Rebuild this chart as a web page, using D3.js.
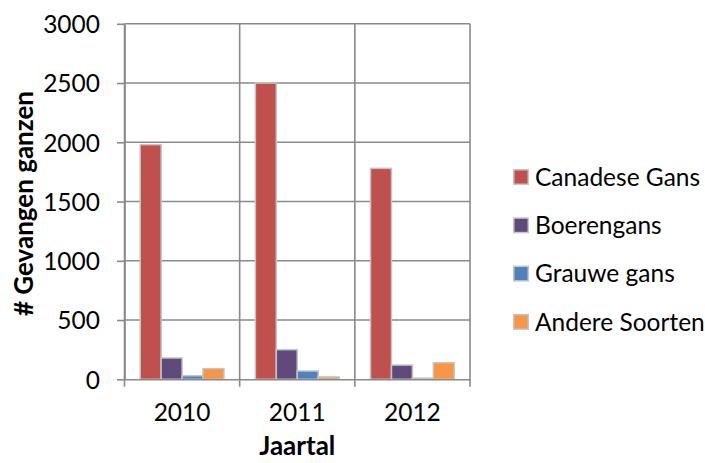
<!DOCTYPE html>
<html>
<head>
<meta charset="utf-8">
<script src="https://cdn.jsdelivr.net/npm/d3@7"></script>
<style>
  html, body { margin: 0; padding: 0; background: #fff; }
  svg { display: block; }
  text { font-family: Lato, "Open Sans", sans-serif; fill: #000; }
</style>
</head>
<body>
<svg id="chart" width="705" height="463"></svg>
<script>
// Gevangen ganzen per jaar en soort
const years = ["2010", "2011", "2012"];
const seriesNames = ["Canadese Gans", "Boerengans", "Grauwe gans", "Andere Soorten"];
const canadeseGans = [1980, 2500, 1780];
const boerengans = [180, 250, 120];
const grauweGans = [30, 70, 10];
const andereSoorten = [90, 20, 140];
const yTicks = [0, 500, 1000, 1500, 2000, 2500, 3000];
const seriesColors = ["#C0504D", "#604A7B", "#4F81BD", "#F79646"];

const seriesValues = [canadeseGans, boerengans, grauweGans, andereSoorten];

const svg = d3.select("#chart");
const gridColor = "#8a8a8a";
const fontSize = 24.5;

const plot = { left: 124.5, right: 470, top: 23.8, bottom: 379.3 };

const y = d3.scaleLinear().domain([0, 3000]).range([plot.bottom, plot.top]);
const x = d3.scaleBand().domain(years).range([plot.left, plot.right]).padding(0);
// Gap width 150% of a bar on each side of a group
const xInner = d3.scaleBand().domain(seriesNames)
  .range([0, x.bandwidth()]).paddingInner(0).paddingOuter(0.75);

// Horizontal gridlines
svg.append("g").selectAll("line").data(yTicks.filter(d => d > 0)).join("line")
  .attr("x1", plot.left).attr("x2", plot.right)
  .attr("y1", d => y(d)).attr("y2", d => y(d))
  .attr("stroke", gridColor).attr("stroke-width", 1.6);

// Vertical gridlines at category boundaries, extending as x-axis ticks
const boundaries = years.map(d => x(d)).concat([x(years[years.length - 1]) + x.bandwidth()]);
svg.append("g").selectAll("line").data(boundaries).join("line")
  .attr("x1", d => d).attr("x2", d => d)
  .attr("y1", plot.top).attr("y2", plot.bottom + 7.5)
  .attr("stroke", gridColor).attr("stroke-width", 1.6);

// Bars
const groups = svg.append("g").selectAll("g").data(years).join("g")
  .attr("transform", d => `translate(${x(d)},0)`);
groups.selectAll("rect")
  .data((yr, i) => seriesNames.map((s, j) => ({ s, j, v: seriesValues[j][i] })))
  .join("rect")
  .attr("x", d => xInner(d.s))
  .attr("width", xInner.bandwidth())
  .attr("y", d => y(d.v))
  .attr("height", d => y(0) - y(d.v))
  .attr("fill", d => seriesColors[d.j])
  .attr("stroke", "#c4c4c4").attr("stroke-width", 1.5);

// Y axis
const yAxis = svg.append("g")
  .attr("transform", `translate(${plot.left},0)`)
  .call(d3.axisLeft(y).tickValues(yTicks).tickFormat(d3.format("d"))
    .tickSize(7.5).tickPadding(17).tickSizeOuter(0));
yAxis.select(".domain").attr("stroke", gridColor).attr("stroke-width", 1.6);
yAxis.selectAll(".tick line").attr("stroke", gridColor).attr("stroke-width", 1.6);
yAxis.selectAll(".tick text").style("font-size", fontSize + "px").attr("dy", "0.36em")
  .style("font-family", "Lato, sans-serif").attr("fill", "#000");

// X axis
const xAxis = svg.append("g")
  .attr("transform", `translate(0,${plot.bottom})`)
  .call(d3.axisBottom(x).tickSize(0).tickPadding(24).tickSizeOuter(0));
xAxis.select(".domain").attr("stroke", gridColor).attr("stroke-width", 1.6);
xAxis.selectAll(".tick text").style("font-size", fontSize + "px")
  .style("font-family", "Lato, sans-serif").attr("fill", "#000");

// Axis titles
svg.append("text")
  .attr("transform", `translate(33,${(plot.top + plot.bottom) / 2 + 2}) rotate(-90)`)
  .attr("text-anchor", "middle")
  .style("font-size", "26px").style("font-weight", "bold")
  .text("# Gevangen ganzen");

svg.append("text")
  .attr("x", (plot.left + plot.right) / 2).attr("y", 455)
  .attr("text-anchor", "middle")
  .style("font-size", "26px").style("font-weight", "bold")
  .text("Jaartal");

// Legend
const legend = svg.append("g").selectAll("g").data(seriesNames).join("g")
  .attr("transform", (d, i) => `translate(513,${177 + i * 48.3})`);
legend.append("rect")
  .attr("x", 0.75).attr("y", -7.25).attr("width", 14.5).attr("height", 14.5)
  .attr("fill", (d, i) => seriesColors[i])
  .attr("stroke", "#c4c4c4").attr("stroke-width", 1.5);
legend.append("text")
  .attr("x", 22).attr("dy", "0.36em")
  .style("font-size", fontSize + "px")
  .text(d => d);
</script>
</body>
</html>
